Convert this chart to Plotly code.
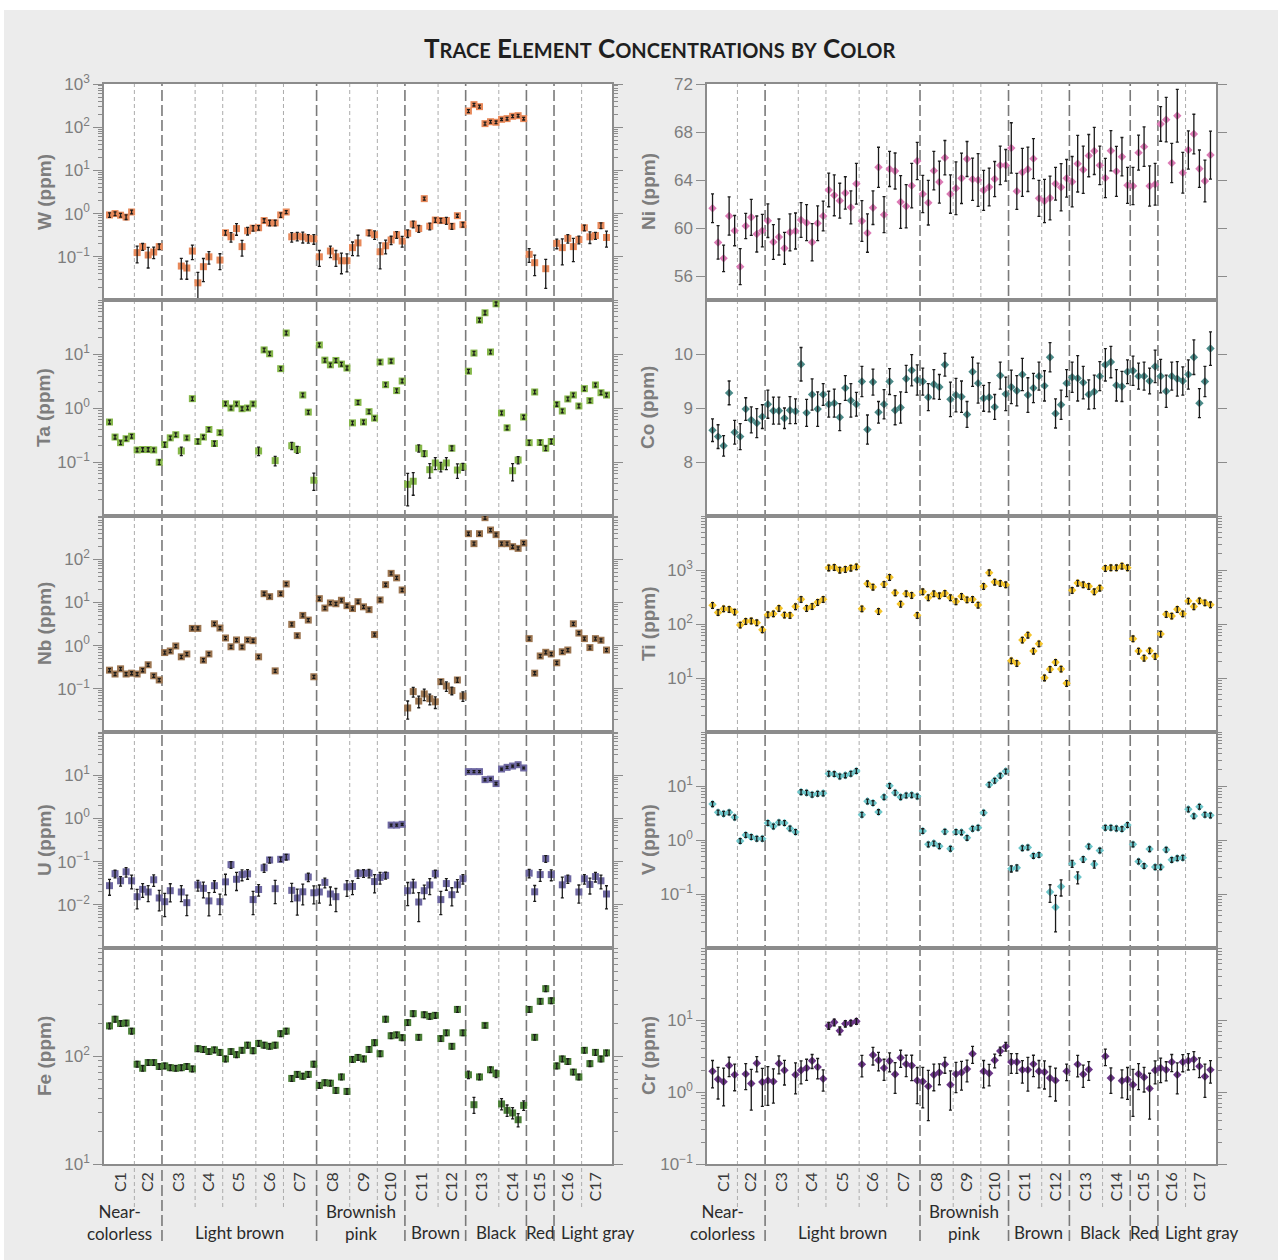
import plotly.graph_objects as go

FIG_W, FIG_H = 1278, 1260

# ---------------- sample layout ----------------
groups = ["C1", "C2", "C3", "C4", "C5", "C6", "C7", "C8", "C9", "C10",
          "C11", "C12", "C13", "C14", "C15", "C16", "C17"]
group_sizes = [5, 5, 6, 5, 6, 5, 6, 6, 5, 5, 6, 5, 6, 5, 5, 5, 5]
color_names = ["Near-<br>colorless", "Light brown", "Brownish<br>pink", "Brown", "Black", "Red", "Light gray"]
color_spans = [2, 5, 3, 2, 2, 1, 2]   # number of C groups in each color class

# ---------------- concentrations (ppm) ----------------
W = [0.93, 1.0, 0.92, 0.83, 1.09,
     0.125, 0.172, 0.110, 0.129, 0.172,
     None, None, None, 0.061, 0.055, 0.136,
     0.025, 0.059, 0.10, None, 0.084,
     0.36, 0.29, 0.45, 0.172, 0.40, 0.46,
     0.47, 0.69, 0.61, 0.61, 0.93,
     1.09, 0.29, 0.30, 0.29, 0.267, 0.26,
     0.10, None, 0.136, 0.10, 0.081, 0.081,
     0.163, 0.21, None, 0.36, 0.325,
     0.131, 0.18, 0.245, 0.325, 0.232,
     0.35, 0.57, 0.45, 2.22, 0.51, 0.71,
     0.69, 0.69, 0.51, 0.895, 0.555,
     237, 333, 299, 121, 134, 130,
     152, 158, 179, 185, 158,
     0.114, 0.073, None, 0.053, None,
     0.205, 0.163, 0.267, 0.172, 0.25,
     0.47, 0.29, 0.31, 0.53, 0.28]
W_rel = [0.12, 0.10, 0.10, 0.12, 0.10,
         0.42, 0.18, 0.50, 0.30, 0.15,
         0, 0, 0, 0.50, 0.45, 0.37,
         0.75, 0.55, 0.32, 0, 0.40,
         0.12, 0.25, 0.30, 0.40, 0.20, 0.15,
         0.12, 0.10, 0.15, 0.15, 0.12,
         0.08, 0.25, 0.22, 0.28, 0.22, 0.25,
         0.40, 0, 0.30, 0.40, 0.50, 0.45,
         0.35, 0.50, 0, 0.15, 0.22,
         0.60, 0.35, 0.22, 0.18, 0.28,
         0.20, 0.18, 0.18, 0.08, 0.18, 0.12,
         0.12, 0.18, 0.15, 0.08, 0.12,
         0.08, 0.07, 0.08, 0.08, 0.07, 0.07,
         0.06, 0.07, 0.07, 0.07, 0.07,
         0.35, 0.50, 0, 0.65, 0,
         0.25, 0.60, 0.22, 0.55, 0.20,
         0.15, 0.30, 0.18, 0.15, 0.40]

Ta = [0.55, 0.29, 0.228, 0.27, 0.30,
      0.167, 0.17, 0.17, 0.167, 0.099,
      0.21, 0.28, 0.32, 0.16, 0.28, 1.49,
      0.24, 0.29, 0.40, 0.22, 0.35,
      1.2, 1.0, 1.19, 0.97, 1.0, 1.19,
      0.16, 11.9, 10.1, 0.106, 5.35,
      24.5, 0.20, 0.17, 1.74, 0.84, 0.046,
      14.7, 7.7, 6.3, 7.6, 6.5, 5.5,
      0.53, 1.27, 0.55, 0.855, 0.65,
      7.1, 2.7, 7.4, 2.1, 3.16,
      0.0386, 0.044, 0.18, 0.143, 0.072, 0.096,
      0.082, 0.096, 0.18, 0.071, 0.082,
      4.8, 10.4, 42.5, 58, 10.9, 85,
      0.81, 0.43, 0.069, 0.109, 0.68,
      0.228, 1.98, 0.23, 0.18, 0.24,
      1.17, 0.88, 1.47, 1.74, 1.09,
      2.28, 1.37, 2.67, 1.92, 1.74]
Ta_rel = [0.08, 0.08, 0.08, 0.08, 0.08,
          0.08, 0.08, 0.08, 0.08, 0.10,
          0.10, 0.08, 0.08, 0.18, 0.08, 0.08,
          0.10, 0.08, 0.08, 0.10, 0.08,
          0.08, 0.08, 0.08, 0.08, 0.08, 0.08,
          0.18, 0.08, 0.08, 0.20, 0.08,
          0.08, 0.15, 0.15, 0.08, 0.08, 0.35,
          0.08, 0.08, 0.08, 0.08, 0.08, 0.08,
          0.08, 0.08, 0.08, 0.08, 0.08,
          0.08, 0.08, 0.08, 0.08, 0.08,
          0.60, 0.45, 0.15, 0.12, 0.30, 0.25,
          0.20, 0.25, 0.10, 0.30, 0.15,
          0.08, 0.08, 0.08, 0.08, 0.08, 0.08,
          0.08, 0.08, 0.35, 0.15, 0.08,
          0.10, 0.08, 0.10, 0.10, 0.10,
          0.08, 0.08, 0.08, 0.08, 0.08,
          0.08, 0.08, 0.08, 0.08, 0.08]

Nb = [0.27, 0.22, 0.29, 0.22, 0.23,
      0.22, 0.27, 0.36, 0.20, 0.16,
      0.69, 0.75, 0.98, 0.55, 0.64, 2.5,
      2.5, 0.46, 0.64, 3.2, 2.55,
      1.5, 0.94, 1.35, 0.93, 1.35, 1.3,
      0.55, 15.9, 13.6, 0.26, 15.9,
      26.7, 3.1, 1.7, 5.0, 3.9, 0.19,
      12.2, 7.4, 9.7, 9.3, 11.2, 8.4,
      7.2, 10.4, 7.9, 6.8, 1.8,
      11.4, 25.7, 47, 37, 19.4,
      0.036, 0.086, 0.052, 0.076, 0.059, 0.050,
      0.146, 0.116, 0.091, 0.16, 0.068,
      390, 229, 390, 915, 474, 370,
      229, 229, 195, 178, 237,
      1.45, 0.23, 0.575, 0.70, 0.64,
      0.40, 0.72, 0.79, 3.2, 1.95,
      1.45, 0.9, 1.45, 1.33, 0.79]
Nb_rel = [0.08] * 54 + [0.45, 0.25, 0.30, 0.30, 0.28, 0.30,
                        0.12, 0.25, 0.20, 0.12, 0.25] + [0.08] * 26

U = [0.0277, 0.0526, 0.036, 0.058, 0.036,
     0.0154, 0.0228, 0.0198, 0.038, 0.0144,
     0.0118, 0.0212, None, 0.0198, 0.0112, None,
     0.0288, 0.024, 0.0123, 0.0277, 0.0118,
     0.034, 0.085, 0.039, 0.050, 0.052, 0.0132,
     0.0226, 0.072, 0.109, 0.0236, 0.113,
     0.128, 0.0216, 0.0144, 0.020, 0.044, 0.019,
     0.0198, 0.033, 0.0178, 0.0154, None, 0.026,
     0.0266, 0.0526, 0.054, 0.054, 0.0345,
     0.043, 0.048, 0.70, 0.70, 0.73,
     0.0212, 0.0288, 0.0116, 0.0212, 0.0288, 0.0526,
     0.0132, 0.031, 0.0171, 0.029, 0.040,
     12.1, 12.1, 12.1, 7.9, 8.1, 6.4,
     13.9, 15.2, 16.3, 17.5, 14.7,
     0.054, 0.020, 0.050, 0.117, 0.050,
     None, 0.029, 0.040, None, 0.0198,
     0.040, 0.0296, 0.045, 0.036, 0.0178]
U_rel = [0.40, 0.20, 0.25, 0.25, 0.35,
         0.48, 0.35, 0.40, 0.30, 0.50,
         0.55, 0.45, 0, 0.40, 0.50, 0,
         0.28, 0.40, 0.55, 0.30, 0.50,
         0.50, 0.18, 0.45, 0.28, 0.25, 0.55,
         0.30, 0.22, 0.15, 0.55, 0.12,
         0.15, 0.45, 0.60, 0.50, 0.22, 0.45,
         0.45, 0.25, 0.45, 0.55, 0, 0.40,
         0.35, 0.22, 0.20, 0.22, 0.45,
         0.30, 0.18, 0.05, 0.05, 0.05,
         0.55, 0.35, 0.65, 0.35, 0.40, 0.20,
         0.55, 0.30, 0.45, 0.32, 0.25,
         0.05, 0.05, 0.05, 0.06, 0.06, 0.06,
         0.05, 0.05, 0.05, 0.05, 0.05,
         0.22, 0.40, 0.30, 0.18, 0.28,
         0, 0.50, 0.22, 0, 0.45,
         0.25, 0.40, 0.25, 0.35, 0.55]

Fe = [190, 219, 200, 202, 170,
      84, 77, 87, 87, 80,
      81, 78, 77, 78, 80, 76,
      117, 115, 110, 114, 108,
      94, 110, 103, 113, 126, 112,
      131, 126, 123, 126, 161,
      170, 62, 67.6, 65, 67.6, 84,
      53.5, 56.6, 56, 48, 64, 47,
      93, 97, 94, 115, 133,
      105, 219, 154, 157, 148,
      204, 247, 149, 241, 233, 238,
      145, 164, 123, 270, 164,
      67, 35.4, 64, 192, 74.6, 68.6,
      36, 31.4, 29.7, 25.7, 34.9,
      270, 149, 321, 420, 325,
      81, 94, 89, 71, 64,
      113, 85, 108, 94, 107]
Fe_rel = [0.06] * 65 + [0.08, 0.17, 0.06, 0.05, 0.06, 0.08,
                        0.12, 0.12, 0.12, 0.14, 0.10] + [0.06] * 15

Ni = [61.64, 58.8, 57.47, 61.0, 59.78,
      56.78, 60.17, 60.89, 59.5, 59.78,
      60.61, 58.83, 59.25, 58.31, 59.64, 59.75,
      60.67, 60.44, 58.81, 60.39, 61.0,
      63.17, 62.72, 62.28, 62.92, 61.72, 63.69,
      60.58, 59.58, 61.69, 65.06, 61.11,
      64.92, 64.75, 62.17, 61.81, 63.53, 65.58,
      62.83, 62.11, 64.78, 63.83, 65.86, 62.83,
      63.31, 64.14, 65.75, 64.06, 64.0,
      63.14, 63.42, 64.08, 65.22, 65.22,
      66.67, 63.06, 64.64, 64.89, 65.78, 62.47,
      62.25, 62.5, 63.69, 63.39, 64.14,
      63.86, 65.36, 64.86, 66.03, 66.42, 65.22,
      64.17, 66.44, 64.72, 65.94, 63.56,
      63.5, 66.28, 66.78, 63.5, 63.64,
      68.67, 69.03, 65.42, 69.36, 64.61,
      66.5, 67.83, 64.94, 63.92, 66.08]
Ni_err = [1.2, 1.4, 1.1, 1.6, 1.26,
          1.5, 1.05, 1.5, 1.5, 1.35,
          1.4, 1.45, 1.5, 1.33, 1.54, 1.5,
          1.45, 1.5, 1.55, 1.45, 1.24,
          1.4, 1.7, 1.45, 1.35, 1.37, 1.7,
          1.7, 1.6, 1.4, 1.67, 1.5,
          1.46, 1.5, 2.2, 1.8, 1.85, 1.55,
          1.55, 1.86, 1.6, 1.75, 1.43, 1.6,
          2.2, 2.1, 1.46, 1.76, 2.2,
          1.67, 1.57, 1.46, 1.6, 1.32,
          2.1, 1.5, 2.0, 1.85, 1.67, 1.5,
          1.8, 1.83, 1.36, 1.97, 1.57,
          2.1, 2.36, 1.97, 1.76, 1.96, 1.6,
          1.64, 1.68, 2.08, 1.6, 1.5,
          1.55, 1.46, 1.64, 1.67, 1.74,
          1.44, 1.86, 1.64, 2.2, 1.7,
          1.6, 1.65, 1.56, 1.74, 2.0]

Co = [8.59, 8.47, 8.30, 9.28, 8.55,
      8.47, 8.98, 8.78, 8.72, 8.84,
      9.07, 8.95, 8.95, 8.81, 8.96, 8.94,
      9.81, 8.91, 9.25, 8.98, 9.25,
      9.07, 9.09, 8.83, 9.37, 9.14, 9.07,
      9.49, 8.60, 9.48, 8.92, 9.07,
      9.49, 8.96, 9.01, 9.54, 9.70, 9.52,
      9.49, 9.20, 9.44, 9.39, 9.80, 9.16,
      9.24, 9.21, 8.88, 9.67, 9.46,
      9.18, 9.20, 9.02, 9.60, 9.26,
      9.39, 9.32, 9.62, 9.24, 9.37, 9.59,
      9.41, 9.94, 8.90, 9.06, 9.46,
      9.57, 9.55, 9.47, 9.25, 9.30, 9.59,
      9.80, 9.85, 9.42, 9.40, 9.67,
      9.69, 9.59, 9.59, 9.50, 9.77,
      9.59, 9.31, 9.59, 9.54, 9.50,
      9.62, 9.94, 9.09, 9.49, 10.10]
Co_err = [0.21, 0.22, 0.19, 0.22, 0.22,
          0.24, 0.21, 0.24, 0.27, 0.22,
          0.26, 0.25, 0.25, 0.19, 0.25, 0.23,
          0.31, 0.25, 0.29, 0.32, 0.20,
          0.24, 0.26, 0.25, 0.23, 0.31, 0.22,
          0.28, 0.27, 0.24, 0.20, 0.27,
          0.24, 0.27, 0.29, 0.25, 0.29, 0.28,
          0.25, 0.25, 0.27, 0.23, 0.21, 0.32,
          0.31, 0.29, 0.24, 0.27, 0.37,
          0.24, 0.27, 0.23, 0.25, 0.31,
          0.31, 0.28, 0.30, 0.32, 0.27, 0.26,
          0.28, 0.27, 0.27, 0.27, 0.25,
          0.28, 0.42, 0.30, 0.27, 0.31, 0.27,
          0.30, 0.29, 0.29, 0.28, 0.22,
          0.27, 0.24, 0.26, 0.24, 0.30,
          0.31, 0.30, 0.26, 0.32, 0.26,
          0.27, 0.32, 0.27, 0.28, 0.31]

Ti = [222, 164, 192, 187, 167,
      96, 112, 114, 106, 78.5,
      149, 155, 195, 147, 145, 210,
      286, 195, 212, 252, 286,
      1100, 1120, 1000, 1030, 1090, 1150,
      192, 558, 484, 172, 543,
      731, 380, 234, 365, 340, 145,
      397, 308, 365, 335, 370, 308,
      260, 325, 282, 286, 225,
      499, 893, 600, 566, 535,
      20.9, 18.7, 50.6, 62.5, 31.6, 43.2,
      10.1, 14.5, 19.5, 14.7, 7.96,
      420, 574, 535, 499, 397, 464,
      1074, 1104, 1104, 1186, 1104,
      53.5, 31.6, 23.4, 32, 25.2,
      65.3, 151, 141, 187, 155,
      267, 210, 270, 248, 228]
Ti_rel = [0.12] * 91

V = [4.64, 3.25, 3.07, 3.25, 2.63,
     0.96, 1.24, 1.14, 1.06, 1.06,
     2.07, 1.79, 2.12, 2.07, 1.64, 1.41,
     7.74, 7.53, 6.92, 7.22, 7.32,
     16.9, 16.7, 15.1, 15.8, 16.9, 19.0,
     2.94, 5.2, 4.85, 3.3, 6.25,
     10.1, 7.53, 6.25, 6.7, 6.8, 6.44,
     1.47, 0.83, 0.87, 0.77, 1.43, 0.69,
     1.41, 1.39, 1.10, 1.62, 1.69,
     3.21, 10.6, 12.6, 15.5, 18.7,
     0.294, 0.307, 0.71, 0.73, 0.51, 0.53,
     None, 0.109, 0.057, 0.137, None,
     0.365, 0.206, 0.44, 0.76, 0.355, 0.64,
     1.69, 1.69, 1.64, 1.6, 1.9,
     0.83, 0.40, 0.33, 0.68, 0.316,
     0.316, 0.66, 0.43, 0.46, 0.47,
     3.7, 2.78, 4.14, 2.94, 2.86]
V_rel = [0.10] * 54 + [0.13, 0.13, 0.10, 0.10, 0.10, 0.10,
                       0, 0.36, 0.65, 0.33, 0,
                       0.15, 0.25, 0.12, 0.10, 0.15, 0.10] + [0.10] * 20

Cr = [1.94, 1.5, 1.39, 2.34, 1.74,
      None, 1.78, 1.31, 2.5, 1.38,
      1.45, 1.40, 2.48, 2.0, None, 1.74,
      2.0, 2.15, 2.72, 2.22, 1.53,
      8.34, 9.3, 7.1, 8.9, 9.1, 9.58,
      2.42, None, 3.27, 2.76, 2.15,
      2.7, 1.76, 3.0, 2.44, 2.34, 1.44,
      1.4, 1.2, 1.74, 1.86, 2.42, 1.26,
      1.78, 1.86, 2.08, 3.4, None,
      1.94, 1.82, 2.76, 3.7, 4.3,
      2.61, 2.61, 2.03, 2.03, 2.44, 1.94,
      1.9, 1.56, 1.45, None, 1.94,
      None, 2.42, 1.76, 2.05, None, None,
      3.13, 1.56, None, 1.43, 1.49,
      1.26, 1.78, 1.6, 1.12, 2.0,
      2.15, 2.03, 2.62, 1.74, 2.61,
      2.72, 2.84, 2.28, 1.64, 2.03]
Cr_err = [0.8, 0.7, 0.75, 0.7, 0.7,
          0, 0.7, 0.75, 0.6, 0.75,
          0.8, 0.7, 0.7, 0.75, 0, 0.8,
          0.7, 0.7, 0.6, 0.7, 0.5,
          0.9, 1.0, 0.9, 0.9, 0.8, 0.9,
          0.8, 0, 0.9, 0.8, 0.7,
          0.8, 0.8, 0.8, 0.8, 0.9, 0.75,
          0.8, 0.8, 0.7, 0.6, 0.6, 0.7,
          0.8, 0.8, 0.7, 0.9, 0,
          0.8, 0.6, 0.6, 0.5, 0.6,
          0.8, 0.8, 0.7, 1.0, 0.8, 0.8,
          0.8, 0.7, 0.7, 0, 0.5,
          0, 0.8, 0.6, 0.6, 0, 0,
          0.8, 0.6, 0, 0.6, 0.7,
          0.8, 0.7, 0.6, 0.7, 0.7,
          0.8, 0.6, 0.7, 0.8, 0.7,
          0.7, 0.8, 0.7, 0.8, 0.7]


def rel_to_abs(vals, rel):
    return [v * r if v is not None else None for v, r in zip(vals, rel)]


# ---------------- panel definitions ----------------
# (label, values, errors, colour, symbol, axis type, range, labelled ticks)
panels = [
    ("W",  W,  rel_to_abs(W, W_rel),   "#E8895A", "square",  "log",    [-2, 3],  [-1, 0, 1, 2, 3]),
    ("Ta", Ta, rel_to_abs(Ta, Ta_rel), "#86B84A", "square",  "log",    [-2, 2],  [-1, 0, 1]),
    ("Nb", Nb, rel_to_abs(Nb, Nb_rel), "#9C7550", "square",  "log",    [-2, 3],  [-1, 0, 1, 2]),
    ("U",  U,  rel_to_abs(U, U_rel),   "#6E68A2", "square",  "log",    [-3, 2],  [-2, -1, 0, 1]),
    ("Fe", Fe, rel_to_abs(Fe, Fe_rel), "#4A7F36", "square",  "log",    [1, 3],   [1, 2]),
    ("Ni", Ni, Ni_err,                 "#DC7AB5", "diamond", "linear", [54, 72], [56, 60, 64, 68, 72]),
    ("Co", Co, Co_err,                 "#4A8A88", "diamond", "linear", [7, 11],  [8, 9, 10]),
    ("Ti", Ti, rel_to_abs(Ti, Ti_rel), "#F4C42A", "diamond", "log",    [0, 4],   [1, 2, 3]),
    ("V",  V,  rel_to_abs(V, V_rel),   "#6CC6CA", "diamond", "log",    [-2, 2],  [-1, 0, 1]),
    ("Cr", Cr, Cr_err,                 "#6A3586", "diamond", "log",    [-1, 2],  [-1, 0, 1]),
]

# ---------------- geometry (pixels) ----------------
COL_X = [(104, 612), (707, 1216)]
ROW_Y = [(84, 300), (300, 516), (516, 732), (732, 948), (948, 1164)]


def fx(p):
    return p / FIG_W


def fy(p):
    return 1 - p / FIG_H


AX = "#8c8c8c"
TICK_FONT = dict(family="Liberation Sans, Arial, sans-serif", size=17, color="#7d7d7d")
LABEL_FONT = dict(family="Lato, Open Sans, sans-serif", size=17, color="#2b2b2b")

n_samples = sum(group_sizes)
xs = list(range(n_samples))

# group centres and boundaries
starts, acc = [], 0
for s in group_sizes:
    starts.append(acc)
    acc += s
centers = [st + (s - 1) / 2 for st, s in zip(starts, group_sizes)]
sub_bounds = [st - 0.5 for st in starts[1:]]
color_bounds, color_ranges, gi = [], [], 0
for span in color_spans:
    first = starts[gi]
    last = starts[gi + span - 1] + group_sizes[gi + span - 1] - 1
    color_ranges.append((first, last))
    gi += span
    if gi < len(groups):
        color_bounds.append(starts[gi] - 0.5)
minor_bounds = [b for b in sub_bounds if b not in color_bounds]

fig = go.Figure()
layout = {}
annotations = []
shapes = []

for k, (name, vals, errs, col, sym, atype, rng, shown) in enumerate(panels):
    column, row = divmod(k, 5)
    ax_id = "" if k == 0 else str(k + 1)
    xref, yref = "x" + ax_id, "y" + ax_id
    bottom = row == 4
    x0, x1 = COL_X[column]
    top_px, bot_px = ROW_Y[row]

    # markers
    fig.add_trace(go.Scatter(
        x=xs, y=vals, mode="markers", xaxis=xref, yaxis=yref,
        marker=dict(symbol=sym, size=7 if sym == "square" else 6.5, color=col,
                    line=dict(width=0)),
        showlegend=False, hoverinfo="skip"))
    # uncertainty bars drawn over the markers
    fig.add_trace(go.Scatter(
        x=xs, y=vals, mode="markers", xaxis=xref, yaxis=yref,
        marker=dict(size=2, opacity=0),
        error_y=dict(type="data", array=errs, symmetric=True, color="#1a1a1a",
                     thickness=1.3, width=1.5),
        showlegend=False, hoverinfo="skip"))

    if atype == "log":
        tickvals = [10 ** e for e in shown]
        ticktext = ["10<sup>" + str(e).replace("-", "\u2212") + "</sup>" for e in shown]
        minor = dict(ticks="outside", ticklen=4, tickcolor=AX, tickwidth=1,
                     tickmode="linear", dtick="D1", showgrid=False)
    else:
        tickvals = shown
        ticktext = [str(v) for v in shown]
        minor = None

    layout["xaxis" + ax_id] = dict(
        domain=[fx(x0), fx(x1)], range=[-1, n_samples], anchor=yref,
        showline=True, linecolor=AX, linewidth=1.5, mirror=True,
        showgrid=False, zeroline=False, ticks="",
        showticklabels=bottom, tickmode="array", tickvals=centers, ticktext=groups,
        tickangle=-90, tickfont=dict(family="Lato, Open Sans, sans-serif", size=16, color="#3a3a3a"),
        automargin=False, fixedrange=True)
    yax = dict(
        domain=[fy(bot_px), fy(top_px)], type=atype, range=rng, anchor=xref,
        showline=True, linecolor=AX, linewidth=1.5, mirror="allticks",
        showgrid=False, zeroline=False,
        ticks="outside", ticklen=9, tickwidth=1.2, tickcolor=AX,
        tickmode="array", tickvals=tickvals, ticktext=ticktext, tickfont=TICK_FONT,
        automargin=False, fixedrange=True)
    if minor:
        yax["minor"] = minor
    layout["yaxis" + ax_id] = yax

    # axis title
    annotations.append(dict(
        x=fx(44 if column == 0 else 648), y=fy((top_px + bot_px) / 2),
        xref="paper", yref="paper", text="<b>%s (ppm)</b>" % name, textangle=-90,
        showarrow=False, xanchor="center", yanchor="middle",
        font=dict(family="Liberation Sans, Arial, sans-serif", size=19, color="#7d7d7d")))

# separators between groups, continuing below the bottom axes
for column in range(2):
    xr = "x5" if column == 0 else "x10"
    for b in minor_bounds:
        shapes.append(dict(type="line", xref=xr, yref="paper", x0=b, x1=b,
                           y0=fy(1207), y1=fy(84), layer="below",
                           line=dict(color="#ababab", width=1, dash="4px,3px")))
    for b in color_bounds:
        shapes.append(dict(type="line", xref=xr, yref="paper", x0=b, x1=b,
                           y0=fy(1241), y1=fy(84), layer="below",
                           line=dict(color="#7a7a7a", width=1.6, dash="11px,4px")))

    # colour-class labels (two-line names are one text block)
    for ci, (cname, (first, last)) in enumerate(zip(color_names, color_ranges)):
        mid = (first + last) / 2
        if ci == 0:
            xpos, anchor = last + 0.5 - 1.4, "right"
        elif ci == len(color_names) - 1:
            xpos, anchor = first - 0.5 + 0.9, "left"
        else:
            xpos, anchor = mid, "center"
        if "<br>" in cname:
            annotations.append(dict(x=xpos, y=fy(1222.5), xref=xr, yref="paper", text=cname,
                                    showarrow=False, xanchor=anchor, yanchor="middle",
                                    align="center", font=LABEL_FONT))
        else:
            annotations.append(dict(x=xpos, y=fy(1232), xref=xr, yref="paper", text=cname,
                                    showarrow=False, xanchor=anchor, yanchor="middle", font=LABEL_FONT))

# page background with a thin white edge at top and left
shapes.append(dict(type="rect", xref="paper", yref="paper", x0=0, x1=fx(4), y0=0, y1=1,
                   fillcolor="white", line=dict(width=0), layer="below"))
shapes.append(dict(type="rect", xref="paper", yref="paper", x0=0, x1=1, y0=fy(10), y1=1,
                   fillcolor="white", line=dict(width=0), layer="below"))

sc = '<span style="font-size:20px">%s</span>'
title_text = ("<b>T" + sc % "RACE" + " E" + sc % "LEMENT" + " C" + sc % "ONCENTRATIONS"
              + " " + sc % "BY" + " C" + sc % "OLOR" + "</b>")
annotations.append(dict(x=fx(659), y=fy(48), xref="paper", yref="paper", text=title_text,
                        showarrow=False, xanchor="center", yanchor="middle",
                        font=dict(family="Lato, Open Sans, sans-serif", size=26, color="#1f1f1f")))

fig.update_layout(
    width=FIG_W, height=FIG_H,
    margin=dict(l=0, r=0, t=0, b=0),
    paper_bgcolor="#ececec", plot_bgcolor="white",
    showlegend=False,
    annotations=annotations, shapes=shapes,
    **layout)

fig.write_html("out.html")
